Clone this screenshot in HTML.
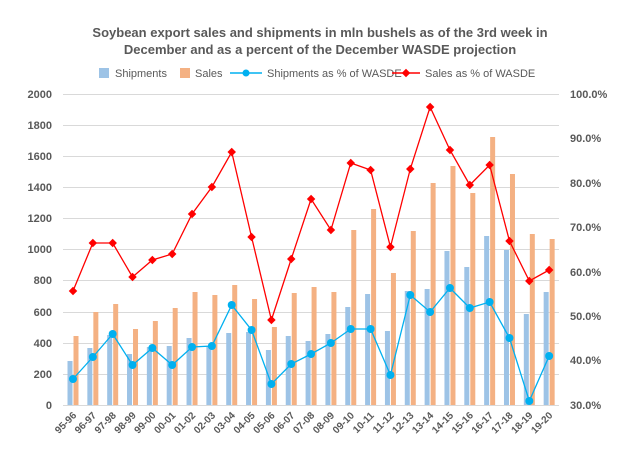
<!DOCTYPE html>
<html><head><meta charset="utf-8"><style>body{margin:0;background:#fff}svg{display:block;font-family:"Liberation Sans",sans-serif}</style></head><body>
<svg width="640" height="460" xmlns="http://www.w3.org/2000/svg">
<rect width="640" height="460" fill="#fff"/>
<g font-size="13" font-weight="bold" fill="#595959" text-anchor="middle">
<text x="320" y="37">Soybean export sales and shipments in mln bushels as of the 3rd week in</text>
<text x="320" y="54">December and as a percent of the December WASDE projection</text>
</g>
<g font-size="11" fill="#595959">
<rect x="99" y="68" width="10" height="10" fill="#9dc3e6"/><text x="115" y="77">Shipments</text>
<rect x="180" y="68" width="10" height="10" fill="#f4b183"/><text x="195" y="77">Sales</text>
<line x1="230" y1="73" x2="262" y2="73" stroke="#00b0f0" stroke-width="1.5"/><circle cx="246" cy="73" r="3.5" fill="#00b0f0"/><text x="267" y="77">Shipments as % of WASDE</text>
<line x1="392" y1="73" x2="420" y2="73" stroke="#ff0000" stroke-width="1.5"/><rect x="403" y="70" width="6" height="6" fill="#ff0000" transform="rotate(45 406 73)"/><text x="425" y="77">Sales as % of WASDE</text>
</g>
<g stroke="#d9d9d9" stroke-width="1">
<line x1="63" x2="559" y1="94.5" y2="94.5"/><line x1="63" x2="559" y1="125.5" y2="125.5"/><line x1="63" x2="559" y1="156.5" y2="156.5"/><line x1="63" x2="559" y1="187.5" y2="187.5"/><line x1="63" x2="559" y1="218.5" y2="218.5"/><line x1="63" x2="559" y1="249.5" y2="249.5"/><line x1="63" x2="559" y1="280.5" y2="280.5"/><line x1="63" x2="559" y1="312.5" y2="312.5"/><line x1="63" x2="559" y1="343.5" y2="343.5"/><line x1="63" x2="559" y1="374.5" y2="374.5"/><line x1="63" x2="559" y1="405.5" y2="405.5"/>
</g>
<g font-size="11" font-weight="bold" fill="#595959" text-anchor="end">
<text x="52" y="98">2000</text><text x="52" y="129">1800</text><text x="52" y="160">1600</text><text x="52" y="191">1400</text><text x="52" y="222">1200</text><text x="52" y="253">1000</text><text x="52" y="284">800</text><text x="52" y="316">600</text><text x="52" y="347">400</text><text x="52" y="378">200</text><text x="52" y="409">0</text>
</g>
<g font-size="11" font-weight="bold" fill="#595959">
<text x="570" y="98">100.0%</text><text x="570" y="142">90.0%</text><text x="570" y="187">80.0%</text><text x="570" y="231">70.0%</text><text x="570" y="276">60.0%</text><text x="570" y="320">50.0%</text><text x="570" y="364">40.0%</text><text x="570" y="409">30.0%</text>
</g>
<g id="bars"></g>
<polyline id="red" fill="none" stroke="#ff0000" stroke-width="1.3"/>
<g id="redm" fill="#ff0000"></g>
<polyline id="blu" fill="none" stroke="#00b0f0" stroke-width="1.3"/>
<g id="blum" fill="#00b0f0"></g>
<g id="xl" font-size="10" font-weight="bold" fill="#595959" text-anchor="end"></g>
<script>
var labs=["95-96","96-97","97-98","98-99","99-00","00-01","01-02","02-03","03-04","04-05","05-06","06-07","07-08","08-09","09-10","10-11","11-12","12-13","13-14","14-15","15-16","16-17","17-18","18-19","19-20"];
var bs=[361,348,335,354,347,346,338,346,333,332,350,336,341,334,307,294,331,291,289,251,267,236,250,314,292];
var os=[336,312,304,329,321,308,292,295,285,299,327,293,287,292,230,209,273,231,183,166,193,137,174,234,239];
var rd=[291,243,243,277,260,254,214,187,152,237,320,259,199,230,163,170,247,169,107,150,185,165,241,281,270];
var bl=[379,357,334,365,348,365,347,346,305,330,384,364,354,343,329,329,375,295,312,288,308,302,338,401,356];
var NS="http://www.w3.org/2000/svg";
function el(t,a,p){var e=document.createElementNS(NS,t);for(var k in a)e.setAttribute(k,a[k]);document.getElementById(p).appendChild(e);return e;}
var rp=[],bp=[];
for(var i=0;i<25;i++){var c=73+19.84*i;
el("rect",{x:c-5.5,y:bs[i],width:5,height:405-bs[i],fill:"#9dc3e6"},"bars");
el("rect",{x:c+0.5,y:os[i],width:5,height:405-os[i],fill:"#f4b183"},"bars");
rp.push(c+","+rd[i]);bp.push(c+","+bl[i]);
el("rect",{x:c-3,y:rd[i]-3,width:6,height:6,transform:"rotate(45 "+c+" "+rd[i]+")"},"redm");
el("circle",{cx:c,cy:bl[i],r:4},"blum");
var t=el("text",{x:c+4,y:416,transform:"rotate(-45 "+(c+4)+" 416)"},"xl");t.textContent=labs[i];}
document.getElementById("red").setAttribute("points",rp.join(" "));
document.getElementById("blu").setAttribute("points",bp.join(" "));
</script>
</svg>
</body></html>
